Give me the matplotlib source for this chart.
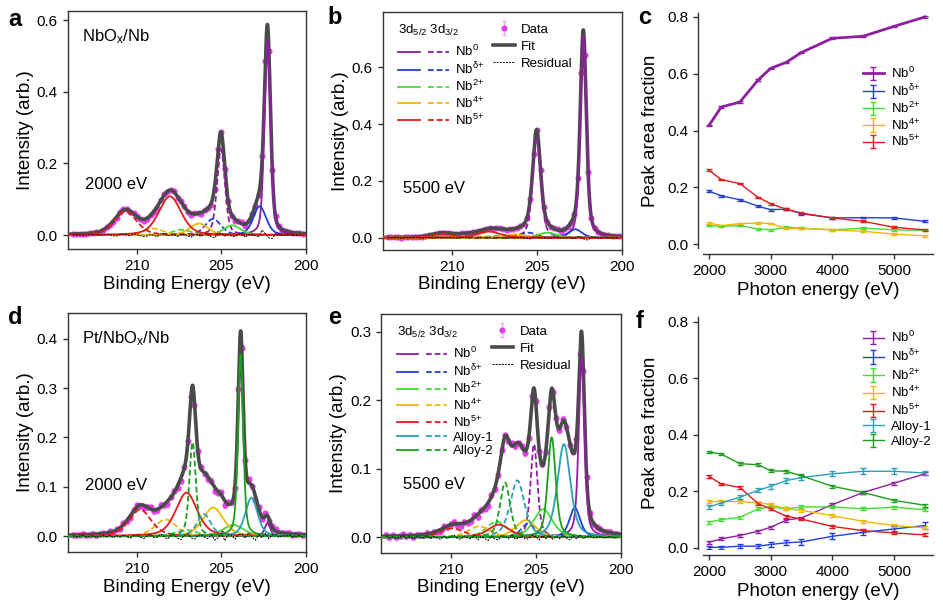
import numpy as np
import matplotlib.pyplot as plt
from matplotlib.legend_handler import HandlerTuple

plt.rcParams["font.family"] = ["Liberation Sans", "DejaVu Sans"]
plt.rcParams["mathtext.fontset"] = "custom"
plt.rcParams["mathtext.rm"] = "Liberation Sans"
plt.rcParams["mathtext.it"] = "Liberation Sans:italic"
plt.rcParams["mathtext.default"] = "regular"

LABELS = ["Nb$^{0}$", "Nb$^{δ{+}}$", "Nb$^{2{+}}$", "Nb$^{4{+}}$", "Nb$^{5{+}}$", "Alloy-1", "Alloy-2"]
COLORS = ["#8e1f9f", "#2040d8", "#44dd33", "#f2b705", "#e3191c", "#2ba0b6", "#1e9e1e"]

# measured energy grid of the spectra (eV)
DATA_E = np.arange(213.8, 200.1, -0.2)

# ---- a: NbOx/Nb, 2000 eV  (3d5/2 and 3d3/2 components: centre, height, FWHM) ----
A_POS52 = [202.28, 202.74, 204.37, 206.34, 208.05]
A_H52 = [0.545, 0.080, 0.027, 0.032, 0.108]
A_W52 = [0.42, 0.90, 1.20, 1.30, 1.55]
A_POS32 = [205.03, 205.50, 207.36, 209.04, 210.68]
A_H32 = [0.240, 0.045, 0.015, 0.018, 0.066]
A_W32 = [0.55, 1.10, 1.30, 1.40, 1.55]
A_RES = [0, 1, 0, -1, 0, 1, 0, 0, -1, 0, 1,
         0, -2, -3, 1, 2, 0, -2, 3, 1, -2,
         -4, -3, 2, -1, -5, 3, 4, -2, 0, 2,
         -4, 2, 3, -3, -6, 2, 1, -4, 3, 2,
         -5, -8, 6, 4, -3, 2, -3, -5, 2, 4,
         -6, 1, 3, -2, -4, 14, 3, -8, -10, 4,
         2, -2, 0, 1, 0, -1, 0, 0]
A_ERR = 0.003

# ---- b: NbOx/Nb, 5500 eV ----
B_POS52 = [202.28, 202.75, 204.40, 206.30, 207.85]
B_H52 = [0.715, 0.030, 0.018, 0.012, 0.022]
B_W52 = [0.42, 0.90, 1.30, 1.40, 1.60]
B_POS32 = [205.03, 205.50, 207.20, 209.05, 210.60]
B_H32 = [0.355, 0.018, 0.009, 0.007, 0.015]
B_W32 = [0.55, 1.10, 1.40, 1.50, 1.60]
B_RES = [0, 0, 1, 0, -1, 0, 0, 1, 0, 0, -1,
         0, 1, -1, 0, 2, -1, 0, 1, -1, 0,
         -2, 1, 0, -1, 2, -2, 1, 0, -1, 1,
         -2, 0, 1, -1, -2, 2, 0, -1, 1, 0,
         -2, -4, 3, 2, -1, 0, -1, -2, 1, 2,
         -2, 0, 1, -1, -3, 4, 2, -6, -8, 2,
         1, -1, 0, 0, 0, -1, 0, 0]
B_ERR = 0.003

# ---- d: Pt/NbOx/Nb, 2000 eV ----
D_POS52 = [202.28, 202.75, 204.31, 205.49, 207.07, 203.23, 203.87]
D_H52 = [0.026, 0.004, 0.023, 0.058, 0.088, 0.078, 0.368]
D_W52 = [0.40, 0.90, 1.45, 1.45, 1.50, 0.85, 0.36]
D_POS32 = [205.03, 205.50, 207.10, 208.30, 209.82, 206.04, 206.71]
D_H32 = [0.010, 0.002, 0.013, 0.034, 0.054, 0.045, 0.190]
D_W32 = [0.50, 1.00, 1.50, 1.50, 1.55, 0.95, 0.45]
D_RES = [1, -1, 0, 2, -1, 0, 1, -2, 0, 1, -1,
         2, -3, 1, -2, 3, -1, -4, 2, 3, -2,
         -5, 1, 4, -3, -2, 5, -1, -6, 2, 3,
         -4, -7, 2, 5, -3, -6, 1, 4, -2, -5,
         3, -8, -3, 6, -9, 4, 2, -6, 3, 5,
         -4, 7, -2, -8, 3, -3, 6, -5, 2, 4,
         -2, 1, 0, 2, -1, 0, 1, -1]
D_ERR = 0.005

# ---- e: Pt/NbOx/Nb, 5500 eV ----
E_POS52 = [202.30, 202.70, 204.57, 205.59, 207.16, 203.34, 204.06]
E_H52 = [0.262, 0.043, 0.041, 0.025, 0.0185, 0.136, 0.146]
E_W52 = [0.40, 0.75, 1.30, 1.40, 1.50, 0.90, 0.55]
E_POS32 = [205.10, 205.45, 207.30, 208.33, 209.90, 206.08, 206.80]
E_H32 = [0.136, 0.020, 0.023, 0.016, 0.013, 0.083, 0.080]
E_W32 = [0.48, 0.95, 1.40, 1.50, 1.60, 1.00, 0.70]
E_RES = [2, -1, 1, -2, 0, 2, -1, 1, -2, 1, 0,
         -1, 2, -2, 1, -1, -3, 2, -2, 1, 3,
         -2, -3, 2, -1, -2, 3, -4, 1, -2, -5,
         2, -3, -4, 3, 1, -2, 4, -3, -1, 2,
         -3, -2, 3, 1, -4, 2, -2, 3, -3, 1,
         -2, 3, -1, -4, 2, -2, 3, -2, 1, 2,
         -1, 0, 1, -1, 0, 1, -1, 0]
E_ERR = 0.004

# ---- c / f: peak area fractions vs photon energy ----
PHOTON_E = [2000, 2200, 2500, 2800, 3000, 3250, 3500, 4000, 4500, 5000, 5500]

C_FRAC = [
    [0.418, 0.483, 0.500, 0.579, 0.619, 0.640, 0.675, 0.725, 0.732, 0.767, 0.800],
    [0.186, 0.170, 0.156, 0.133, 0.121, 0.123, 0.107, 0.092, 0.093, 0.092, 0.080],
    [0.065, 0.062, 0.065, 0.053, 0.050, 0.059, 0.056, 0.050, 0.056, 0.050, 0.048],
    [0.074, 0.065, 0.072, 0.074, 0.072, 0.055, 0.055, 0.050, 0.045, 0.035, 0.029],
    [0.260, 0.227, 0.213, 0.164, 0.142, 0.123, 0.109, 0.092, 0.080, 0.059, 0.050],
]
C_ERR = 0.003

F_NB0 = [0.020, 0.032, 0.044, 0.059, 0.073, 0.098, 0.106, 0.153, 0.196, 0.229, 0.262]
F_NBD = [0.002, 0.002, 0.006, 0.006, 0.012, 0.018, 0.021, 0.041, 0.055, 0.067, 0.079]
F_NB2 = [0.091, 0.100, 0.108, 0.138, 0.145, 0.138, 0.145, 0.145, 0.138, 0.144, 0.135]
F_NB4 = [0.164, 0.164, 0.164, 0.159, 0.154, 0.138, 0.133, 0.114, 0.094, 0.079, 0.071]
F_NB5 = [0.253, 0.226, 0.214, 0.156, 0.138, 0.112, 0.102, 0.076, 0.061, 0.053, 0.046]
F_AL1 = [0.145, 0.159, 0.179, 0.204, 0.218, 0.238, 0.249, 0.262, 0.271, 0.271, 0.265]
F_AL2 = [0.339, 0.332, 0.298, 0.294, 0.273, 0.271, 0.255, 0.218, 0.196, 0.168, 0.151]
F_ERR_NBD = [0.006, 0.006, 0.007, 0.007, 0.008, 0.009, 0.010, 0.010, 0.010, 0.011, 0.013]
F_ERR_AL1 = [0.006, 0.006, 0.007, 0.007, 0.008, 0.008, 0.008, 0.009, 0.010, 0.010, 0.008]
F_ERR = 0.005

FIG_W, FIG_H = 943, 609
LEG_FS = 9.5


def pvoigt(e, centre, height, fwhm, eta):
    x = (e - centre) / fwhm
    return height * ((1 - eta) * np.exp(-4 * np.log(2) * x ** 2) + eta / (1 + 4 * x ** 2))


def rect(left, top, right, bottom):
    return [left / FIG_W, 1 - bottom / FIG_H, (right - left) / FIG_W, (bottom - top) / FIG_H]


def style_box(ax):
    for s in ax.spines.values():
        s.set_linewidth(1.0)
        s.set_color("#333333")
    ax.tick_params(direction="out", length=3.5, width=1, labelsize=11, color="#333333")


def spectrum(ax, pos52, h52, w52, pos32, h32, w32, res, err, eta, ylim, yticks):
    e_fine = np.linspace(214.2, 199.9, 1500)
    n = len(pos52)
    fit_fine = np.zeros_like(e_fine)
    fit_data = np.zeros_like(DATA_E)
    for i in range(n):
        fit_fine += pvoigt(e_fine, pos52[i], h52[i], w52[i], eta) + pvoigt(e_fine, pos32[i], h32[i], w32[i], eta)
        fit_data += pvoigt(DATA_E, pos52[i], h52[i], w52[i], eta) + pvoigt(DATA_E, pos32[i], h32[i], w32[i], eta)
    res = np.array(res) * 0.001
    data = ax.errorbar(DATA_E, fit_data + res, yerr=err, fmt="o", ms=3.4, color="#e83be8",
                       ecolor="#f3a6f3", elinewidth=1.0, capsize=1.3, zorder=1, label="Data")
    fit, = ax.plot(e_fine, fit_fine, color="#4a4a4a", lw=2.6, zorder=2, label="Fit")
    pairs = []
    for i in range(n):
        l1, = ax.plot(e_fine, pvoigt(e_fine, pos52[i], h52[i], w52[i], eta), color=COLORS[i], lw=1.3, zorder=3)
        l2, = ax.plot(e_fine, pvoigt(e_fine, pos32[i], h32[i], w32[i], eta), color=COLORS[i], lw=1.3,
                      ls=(0, (3.2, 1.6)), zorder=3)
        pairs.append((l1, l2))
    resid, = ax.plot(DATA_E, res, color="black", lw=0.7, ls=(0, (2, 1.2)), zorder=4, label="Residual")
    ax.set_xlim(214.1, 200)
    ax.set_ylim(*ylim)
    ax.set_xticks([210, 205, 200])
    ax.set_yticks(yticks)
    ax.set_xlabel("Binding Energy (eV)", fontsize=13.5, labelpad=2)
    ax.set_ylabel("Intensity (arb.)", fontsize=13.5, labelpad=2)
    style_box(ax)
    return pairs, data, fit, resid


def spectrum_legends(ax, pairs, data, fit, resid, n):
    leg = ax.legend([p for p in pairs], LABELS[:n], handler_map={tuple: HandlerTuple(ndivide=None, pad=0.6)},
                    loc="upper left", bbox_to_anchor=(0.038, 0.98), frameon=False, fontsize=LEG_FS,
                    handlelength=3.84, handletextpad=0.45, labelspacing=0.12, borderpad=0,
                    title="3d$_{5/2}$ 3d$_{3/2}$", title_fontsize=LEG_FS, alignment="left")
    leg._legend_box.sep = 4
    ax.add_artist(leg)
    ax.legend([data, fit, resid], ["Data", "Fit", "Residual"], loc="upper left",
              bbox_to_anchor=(0.435, 0.98), frameon=False, fontsize=LEG_FS, handlelength=1.6,
              handletextpad=0.5, labelspacing=0.36, borderpad=0)


def fraction_axes(ax, ylim):
    for s in ["top", "right"]:
        ax.spines[s].set_visible(False)
    ax.spines["left"].set_position(("outward", 4))
    ax.spines["bottom"].set_position(("outward", 4))
    style_box(ax)
    ax.set_xlim(1908, 5637)
    ax.set_ylim(*ylim)
    ax.set_xticks([2000, 3000, 4000, 5000])
    ax.set_yticks([0.0, 0.2, 0.4, 0.6, 0.8])
    ax.set_xlabel("Photon energy (eV)", fontsize=13.5, labelpad=3)
    ax.set_ylabel("Peak area fraction", fontsize=13.5, labelpad=6)


fig = plt.figure(figsize=(9.43, 6.09), dpi=100)

# a
ax_a = fig.add_axes(rect(67.7, 10.7, 306, 249))
spectrum(ax_a, A_POS52, A_H52, A_W52, A_POS32, A_H32, A_W32, A_RES, A_ERR, 0.35,
         (-0.039, 0.626), [0.0, 0.2, 0.4, 0.6])
ax_a.text(0.059, 0.89, "NbO$_x$/Nb", transform=ax_a.transAxes, fontsize=12, va="center")
ax_a.text(0.073, 0.27, "2000 eV", transform=ax_a.transAxes, fontsize=12, va="center")

# b
ax_b = fig.add_axes(rect(382.7, 12, 622, 250))
out = spectrum(ax_b, B_POS52, B_H52, B_W52, B_POS32, B_H32, B_W32, B_RES, B_ERR, 0.45,
               (-0.043, 0.795), [0.0, 0.2, 0.4, 0.6])
spectrum_legends(ax_b, *out, 5)
ax_b.text(0.084, 0.26, "5500 eV", transform=ax_b.transAxes, fontsize=12, va="center")

# d
ax_d = fig.add_axes(rect(67.7, 313, 306, 552))
spectrum(ax_d, D_POS52, D_H52, D_W52, D_POS32, D_H32, D_W32, D_RES, D_ERR, 0.45,
         (-0.032, 0.452), [0.0, 0.1, 0.2, 0.3, 0.4])
ax_d.text(0.059, 0.894, "Pt/NbO$_x$/Nb", transform=ax_d.transAxes, fontsize=12, va="center")
ax_d.text(0.073, 0.28, "2000 eV", transform=ax_d.transAxes, fontsize=12, va="center")

# e
ax_e = fig.add_axes(rect(381, 314, 620.7, 553))
out = spectrum(ax_e, E_POS52, E_H52, E_W52, E_POS32, E_H32, E_W32, E_RES, E_ERR, 0.5,
               (-0.023, 0.326), [0.0, 0.1, 0.2, 0.3])
spectrum_legends(ax_e, *out, 7)
ax_e.text(0.09, 0.285, "5500 eV", transform=ax_e.transAxes, fontsize=12, va="center")

# c
ax_c = fig.add_axes(rect(703.3, 13.3, 933.3, 248.3))
fraction_axes(ax_c, (-0.015, 0.813))
for i, vals in enumerate(C_FRAC):
    ax_c.errorbar(PHOTON_E, vals, yerr=C_ERR, color=COLORS[i], lw=2.0 if i == 0 else 1.0,
                  elinewidth=1.0, capsize=2.2, capthick=1.0, label=LABELS[i])
ax_c.legend(loc="upper left", bbox_to_anchor=(0.665, 0.805), frameon=False, fontsize=LEG_FS,
            handlelength=1.6, handletextpad=0.5, labelspacing=0.12, borderpad=0)

# f
ax_f = fig.add_axes(rect(703.3, 316.7, 933.3, 549.3))
fraction_axes(ax_f, (-0.005, 0.818))
f_series = [F_NB0, F_NBD, F_NB2, F_NB4, F_NB5, F_AL1, F_AL2]
f_errs = [F_ERR, F_ERR_NBD, F_ERR, F_ERR, F_ERR, F_ERR_AL1, F_ERR]
for i, vals in enumerate(f_series):
    ax_f.errorbar(PHOTON_E, vals, yerr=f_errs[i], color=COLORS[i], lw=1.0,
                  elinewidth=1.0, capsize=2.2, capthick=1.0, label=LABELS[i])
ax_f.legend(loc="upper left", bbox_to_anchor=(0.665, 0.97), frameon=False, fontsize=LEG_FS,
            handlelength=1.6, handletextpad=0.5, labelspacing=0.2, borderpad=0)

# panel letters
for letter, x, y in [("a", 15, 19), ("b", 335, 17), ("c", 645, 17),
                     ("d", 15, 317), ("e", 335, 318), ("f", 640, 322)]:
    fig.text(x / FIG_W, 1 - y / FIG_H, letter, fontsize=17, fontweight="bold",
             ha="center", va="center")

fig.savefig("out.png", dpi=100)
